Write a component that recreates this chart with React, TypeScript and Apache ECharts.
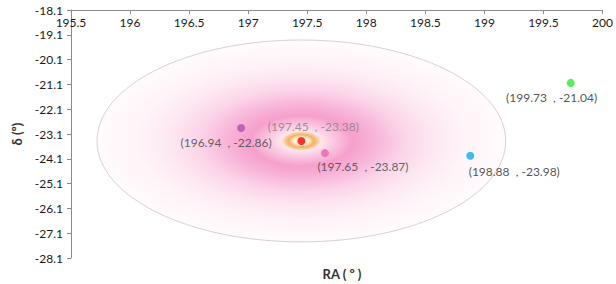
import React, { useEffect, useRef } from "react";
import * as echarts from "echarts";

// ---- data ----
const xTicksMin = 195.5;
const xTicksMax = 200;
const xTickStep = 0.5;
const yTicksMin = -28.1;
const yTicksMax = -18.1;
const yTickStep = 1;

const pointNames = ["A", "B", "C", "D", "E"];
const pointRA = [196.94, 197.45, 197.65, 198.88, 199.73];
const pointDec = [-22.86, -23.38, -23.87, -23.98, -21.04];
const pointColors = ["#b24db2", "#ff0000", "#ec60b4", "#10adee", "#2eea2e"];
const labelOffsets: [number, number][] = [
  [-15, 14],
  [12, -14],
  [38, 13],
  [44, 16],
  [-19, 15],
];
const labelColors = ["#404040", "#8a7a84", "#404040", "#262626", "#262626"];

// ellipse (error region): center RA, Dec, half-width RA, half-height Dec
const ellipseCenter = [197.45, -23.38];
const ellipseRadius = [1.73, 4.07];

const fmtLabel = (ra: number, dec: number) =>
  `(${ra.toFixed(2)}  , ${dec.toFixed(2)})`;

export default function App() {
  const ref = useRef<HTMLDivElement>(null);
  useEffect(() => {
    if (!ref.current) return;
    const chart = echarts.init(ref.current, undefined, { renderer: "svg" });
    const font = "Lato, 'Open Sans', sans-serif";

    const grad = new echarts.graphic.RadialGradient(0.5, 0.5, 0.5, [
      { offset: 0, color: "#fffbe8" },
      { offset: 0.035, color: "#fdf0d4" },
      { offset: 0.062, color: "#f4b262" },
      { offset: 0.077, color: "#f7c690" },
      { offset: 0.097, color: "#fde6ec" },
      { offset: 0.14, color: "#fbd0e4" },
      { offset: 0.25, color: "#f6a0cb" },
      { offset: 0.36, color: "#f8b4d8" },
      { offset: 0.5, color: "#fbd4e8" },
      { offset: 0.65, color: "#fde8f2" },
      { offset: 0.82, color: "#fff5f9" },
      { offset: 1, color: "#fffbfd" },
    ]);

    chart.setOption({
      animation: false,
      grid: { left: 71, right: 11, top: 10, bottom: 26, containLabel: false },
      xAxis: {
        type: "value",
        position: "top",
        min: xTicksMin,
        max: xTicksMax,
        interval: xTickStep,
        axisLine: { show: true, lineStyle: { color: "#8c8c8c" } },
        axisTick: { show: true, inside: true, length: 4, lineStyle: { color: "#8c8c8c" } },
        axisLabel: {
          inside: true,
          margin: 6,
          color: "#1a1a1a",
          fontFamily: font,
          fontSize: 12,
          formatter: (v: number) => String(Math.round(v * 10) / 10),
        },
        splitLine: { show: false },
      },
      yAxis: {
        type: "value",
        min: yTicksMin,
        max: yTicksMax,
        interval: yTickStep,
        name: "δ (º)",
        nameLocation: "middle",
        nameRotate: 90,
        nameGap: 42,
        nameTextStyle: { fontFamily: font, fontSize: 13, fontWeight: "bold", color: "#333" },
        axisLine: { show: true, lineStyle: { color: "#8c8c8c" } },
        axisTick: { show: true, length: 4, lineStyle: { color: "#8c8c8c" } },
        axisLabel: {
          margin: 8,
          color: "#1a1a1a",
          fontFamily: font,
          fontSize: 12,
          formatter: (v: number) => v.toFixed(1),
        },
        splitLine: { show: false },
      },
      graphic: [
        {
          type: "text",
          x: 342,
          y: 274,
          style: {
            text: "RA ( º )",
            fill: "#333",
            font: `bold 13px ${font}`,
            textAlign: "center",
            textVerticalAlign: "middle",
          },
        },
      ],
      series: [
        {
          type: "custom",
          silent: true,
          z: 1,
          data: [[ellipseCenter[0], ellipseCenter[1], ellipseRadius[0], ellipseRadius[1]]],
          renderItem: (params: any, api: any) => {
            const cx = api.value(0);
            const cy = api.value(1);
            const rx = api.value(2);
            const ry = api.value(3);
            const c = api.coord([cx, cy]);
            const p = api.coord([cx + rx, cy + ry]);
            return {
              type: "ellipse",
              shape: { cx: c[0], cy: c[1], rx: Math.abs(p[0] - c[0]), ry: Math.abs(p[1] - c[1]) },
              style: { fill: grad, stroke: "#dccfd5", lineWidth: 1 },
            };
          },
        },
        {
          type: "scatter",
          z: 5,
          symbolSize: 8,
          data: pointNames.map((n, i) => ({
            name: n,
            value: [pointRA[i], pointDec[i]],
            itemStyle: { color: pointColors[i] },
            label: {
              show: true,
              position: "inside",
              offset: labelOffsets[i],
              formatter: fmtLabel(pointRA[i], pointDec[i]),
              color: labelColors[i],
              fontFamily: font,
              fontSize: 12,
            },
          })),
        },
      ],
    });
    return () => chart.dispose();
  }, []);
  return (
    <div
      ref={ref}
      style={{ position: "fixed", left: 0, top: 0, width: 616, height: 284, background: "#fff" }}
    />
  );
}
